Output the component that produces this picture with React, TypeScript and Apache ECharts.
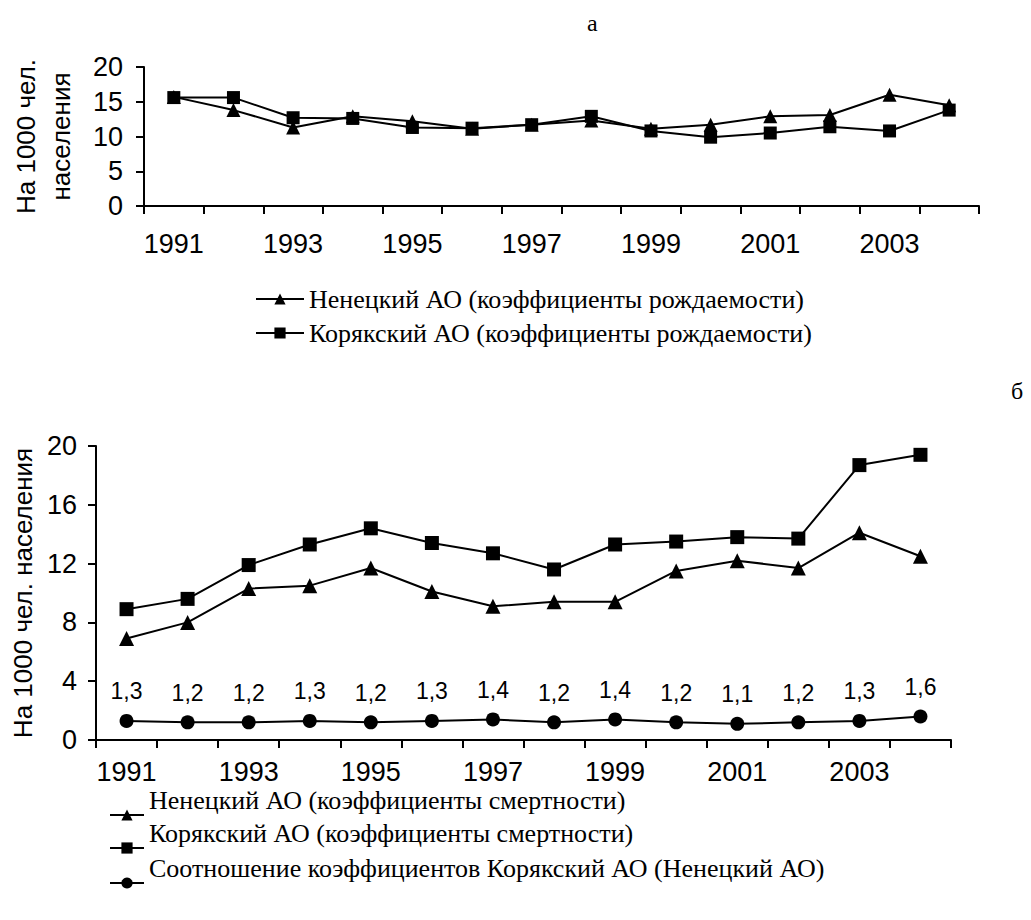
import React, { useEffect, useRef } from "react";
import * as echarts from "echarts";

const years = ["1991", "1992", "1993", "1994", "1995", "1996", "1997", "1998", "1999", "2000", "2001", "2002", "2003", "2004"];

const nenetsBirth = [15.7, 13.8, 11.3, 12.9, 12.2, 11.1, 11.7, 12.3, 11.1, 11.7, 12.9, 13.1, 16.0, 14.5];
const koryakBirth = [15.6, 15.6, 12.7, 12.6, 11.3, 11.2, 11.7, 12.9, 10.8, 9.9, 10.5, 11.4, 10.8, 13.8];

const nenetsDeath = [6.9, 8.0, 10.3, 10.5, 11.7, 10.1, 9.1, 9.4, 9.4, 11.5, 12.2, 11.7, 14.1, 12.5];
const koryakDeath = [8.9, 9.6, 11.9, 13.3, 14.4, 13.4, 12.7, 11.6, 13.3, 13.5, 13.8, 13.7, 18.7, 19.4];
const deathRatio = [1.3, 1.2, 1.2, 1.3, 1.2, 1.3, 1.4, 1.2, 1.4, 1.2, 1.1, 1.2, 1.3, 1.6];

const nameNB = "Ненецкий АО (коэффициенты рождаемости)";
const nameKB = "Корякский АО (коэффициенты рождаемости)";
const nameND = "Ненецкий АО (коэффициенты смертности)";
const nameKD = "Корякский АО (коэффициенты смертности)";
const nameR = "Соотношение коэффициентов Корякский АО (Ненецкий АО)";

const SANS = "'Liberation Sans', Arial, sans-serif";
const SERIF = "'Liberation Serif', 'Times New Roman', serif";

export default function App() {
  const ref = useRef<HTMLDivElement>(null);
  useEffect(() => {
    document.body.style.margin = "0";
    const chart = echarts.init(ref.current!, null, { renderer: "svg" });
    const xAxisBase = (gridIndex: number, margin: number) => ({
      type: "category",
      gridIndex,
      data: years,
      boundaryGap: true,
      axisLine: { lineStyle: { color: "#000", width: 2 } },
      axisTick: { show: true, interval: 0, length: 8, lineStyle: { color: "#000", width: 2 } },
      axisLabel: { interval: 1, color: "#000", fontFamily: SANS, fontSize: 27, lineHeight: 24, margin },
      splitLine: { show: false },
    });
    const lineStyle = { color: "#000", width: 2 };
    const legendText = (pad: number) => ({
      color: "#000",
      fontFamily: SERIF,
      fontSize: 26,
      lineHeight: 22,
      padding: [0, 0, pad, 0],
    });
    const option: any = {
      animation: false,
      backgroundColor: "#fff",
      color: ["#000"],
      title: [
        { text: "а", left: 582, top: 6, textStyle: { fontFamily: SERIF, fontSize: 24, fontWeight: "normal", color: "#000" } },
        { text: "б", left: 1006, top: 374, textStyle: { fontFamily: SERIF, fontSize: 24, fontWeight: "normal", color: "#000" } },
      ],
      grid: [
        { left: 133, top: 67, width: 846, height: 139 },
        { left: 96, top: 446, width: 855, height: 294 },
      ],
      xAxis: [xAxisBase(0, 26), xAxisBase(1, 20)],
      yAxis: [
        {
          type: "value",
          gridIndex: 0,
          min: 0,
          max: 20,
          interval: 5,
          name: "На 1000 чел.\nнаселения",
          nameLocation: "middle",
          nameGap: 66,
          nameTextStyle: { fontFamily: SANS, fontSize: 26, color: "#000", lineHeight: 35 },
          axisLine: { show: true, lineStyle: { color: "#000", width: 2 } },
          axisTick: { show: true, length: 8, lineStyle: { color: "#000", width: 2 } },
          axisLabel: { color: "#000", fontFamily: SANS, fontSize: 27, margin: 21 },
          splitLine: { show: false },
        },
        {
          type: "value",
          gridIndex: 1,
          min: 0,
          max: 20,
          interval: 4,
          name: "На 1000 чел. населения",
          nameLocation: "middle",
          nameGap: 58,
          nameTextStyle: { fontFamily: SANS, fontSize: 26, color: "#000" },
          axisLine: { show: true, lineStyle: { color: "#000", width: 2 } },
          axisTick: { show: true, length: 8, lineStyle: { color: "#000", width: 2 } },
          axisLabel: { color: "#000", fontFamily: SANS, fontSize: 27, margin: 19 },
          splitLine: { show: false },
        },
      ],
      legend: [
        {
          data: [nameNB, nameKB],
          orient: "vertical",
          left: 250,
          top: 281,
          itemWidth: 48,
          itemHeight: 14,
          itemGap: 8,
          textStyle: { color: "#000", fontFamily: SERIF, fontSize: 26 },
        },
        {
          data: [nameND],
          left: 104,
          top: 782,
          itemWidth: 34,
          itemHeight: 14,
          formatter: "{t|{name}}",
          textStyle: { rich: { t: legendText(30) } },
        },
        {
          data: [nameKD],
          left: 104,
          top: 815,
          itemWidth: 34,
          itemHeight: 14,
          formatter: "{t|{name}}",
          textStyle: { rich: { t: legendText(30) } },
        },
        {
          data: [nameR],
          left: 104,
          top: 850,
          itemWidth: 34,
          itemHeight: 14,
          formatter: "{t|{name}}",
          textStyle: { rich: { t: legendText(30) } },
        },
      ],
      series: [
        {
          name: nameNB, type: "line", xAxisIndex: 0, yAxisIndex: 0, data: nenetsBirth,
          symbol: "triangle", symbolSize: 14, lineStyle, itemStyle: { color: "#000" },
        },
        {
          name: nameKB, type: "line", xAxisIndex: 0, yAxisIndex: 0, data: koryakBirth,
          symbol: "rect", symbolSize: 13, lineStyle, itemStyle: { color: "#000" },
        },
        {
          name: nameND, type: "line", xAxisIndex: 1, yAxisIndex: 1, data: nenetsDeath,
          symbol: "triangle", symbolSize: 15, lineStyle, itemStyle: { color: "#000" },
        },
        {
          name: nameKD, type: "line", xAxisIndex: 1, yAxisIndex: 1, data: koryakDeath,
          symbol: "rect", symbolSize: 14, lineStyle, itemStyle: { color: "#000" },
        },
        {
          name: nameR, type: "line", xAxisIndex: 1, yAxisIndex: 1, data: deathRatio,
          symbol: "circle", symbolSize: 14, lineStyle, itemStyle: { color: "#000" },
          label: {
            show: true,
            position: "top",
            distance: 11,
            color: "#000",
            fontFamily: SANS,
            fontSize: 23,
            formatter: (p: any) => String(p.value).replace(".", ","),
          },
        },
      ],
    };
    chart.setOption(option);
    return () => chart.dispose();
  }, []);
  return <div ref={ref} style={{ width: 1031, height: 920 }} />;
}
